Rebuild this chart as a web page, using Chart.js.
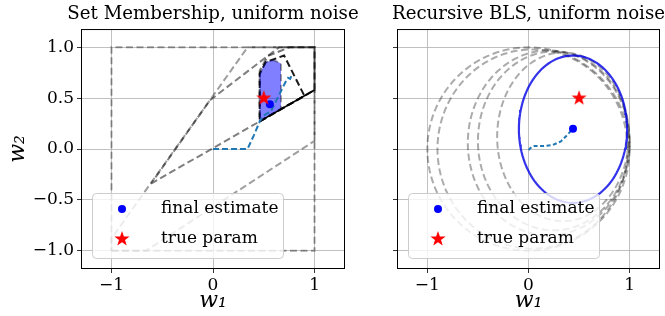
<!DOCTYPE html>
<html>
<head>
<meta charset="utf-8">
<script src="https://cdn.jsdelivr.net/npm/chart.js@4.4.0/dist/chart.umd.min.js"></script>
<style>
  body { margin: 0; background: #fff; width: 665px; height: 316px; overflow: hidden; position: relative; }
  canvas { position: absolute; top: 0; }
  #smChart { left: 0; }
  #blsChart { left: 355px; }
</style>
</head>
<body>
<canvas id="smChart" width="364" height="316"></canvas>
<canvas id="blsChart" width="310" height="316"></canvas>
<script>
// ---------- data
const xTicks = [-1, 0, 1]
const xTickLabels = ['\u22121', '0', '1']
const yTicks = [-1, -0.5, 0, 0.5, 1]
const yTickLabels = ['\u22121.0', '\u22120.5', '0.0', '0.5', '1.0']
const legendLabels = ['final estimate', 'true param']

// set membership: feasible polygons, first to last
const boxX = [-1, 1, 1, -1, -1]
const boxY = [-1, -1, 1, 1, -1]
const set1X = [-1, -0.66, 1, 1, 0.34, -1, -1]
const set1Y = [-1, -1, 0.08, 1, 1, -0.88, -1]
const set2X = [-0.61, 1, 1, 0.65, -0.03, -0.61]
const set2Y = [-0.34, 0.58, 1, 1, 0.48, -0.34]
const set3X = [0.46, 1, 1, 0.75, 0.54, 0.46, 0.46]
const set3Y = [0.272, 0.58, 1, 1, 0.915, 0.77, 0.272]
const set4X = [0.46, 0.9, 0.70, 0.52, 0.46, 0.46]
const set4Y = [0.272, 0.523, 0.92, 0.855, 0.74, 0.272]
const finalSetX = [0.46, 0.67, 0.67, 0.6, 0.52, 0.46, 0.46]
const finalSetY = [0.272, 0.392, 0.84, 0.875, 0.855, 0.74, 0.272]
const cutX = [0.46, 1]
const cutY = [0.272, 0.58]
const smPathX = [0, 0.34, 0.40, 0.46, 0.50, 0.57, 0.62, 0.67, 0.72, 0.74, 0.76, 0.78]
const smPathY = [0, 0, 0.13, 0.27, 0.33, 0.37, 0.47, 0.57, 0.67, 0.70, 0.69, 0.74]
const smEstimate = [0.56, 0.44]
const trueParam = [0.5, 0.5]

// recursive BLS: ellipses (centre x, centre y, half width, half height)
const ellCx = [0, 0.04, 0.2, 0.25, 0.34]
const ellCy = [0, 0, 0.06, 0.08, 0.12]
const ellRx = [1, 0.94, 0.8, 0.75, 0.65]
const ellRy = [1, 0.98, 0.91, 0.88, 0.83]
const finalEll = [0.44, 0.195, 0.535, 0.725]
const blsPathX = [0, 0.03, 0.06, 0.15, 0.24, 0.32, 0.385, 0.44]
const blsPathY = [-0.01, 0.02, 0.03, 0.03, 0.04, 0.075, 0.14, 0.2]
const blsEstimate = [0.44, 0.2]

// ---------- helpers
const FONT = "'DejaVu Serif', serif"
const pts = (xs, ys) => xs.map((x, i) => ({x: x, y: ys[i]}))
function ellipsePts(cx, cy, rx, ry) {
  let out = []
  for (let k = 0; k <= 120; k++) {
    let t = 2 * Math.PI * k / 120
    out.push({x: cx + rx * Math.cos(t), y: cy + ry * Math.sin(t)})
  }
  return out
}
function makeStar(r, color) {
  let c = document.createElement('canvas')
  c.width = c.height = 2 * r + 2
  let g = c.getContext('2d')
  g.fillStyle = color
  g.beginPath()
  for (let k = 0; k < 10; k++) {
    let rad = k % 2 ? r * 0.4 : r
    let a = -Math.PI / 2 + k * Math.PI / 5
    g.lineTo(r + 1 + rad * Math.cos(a), r + 1 + rad * Math.sin(a))
  }
  g.closePath()
  g.fill()
  return c
}
const star = makeStar(8, '#ff0000')

function outline(data, color, dash, width) {
  return {data: data, showLine: true, borderColor: color, borderWidth: width || 2,
    borderDash: dash || [], pointRadius: 0, fill: false, tension: 0}
}
function marker(p, style, radius) {
  return {data: [{x: p[0], y: p[1]}], showLine: false, pointStyle: style, pointRadius: radius,
    backgroundColor: '#0000ff', borderColor: '#0000ff', borderWidth: 0}
}

// let the title run wider than the axes (centred on them), like matplotlib
const wideTitle = {
  id: 'wideTitle',
  afterLayout(chart) {
    const t = chart.titleBlock
    const c = (chart.chartArea.left + chart.chartArea.right) / 2
    t.left = c - 150
    t.right = c + 150
  }
}

// frame on all four sides + matplotlib-like legend in the lower left corner
const frameLegend = {
  id: 'frameLegend',
  afterDatasetsDraw(chart) {
    const {ctx, chartArea: a} = chart
    const lx = a.left + 11, ly = a.bottom - 11 - 65, lw = 191, lh = 65
    ctx.save()
    ctx.beginPath()
    ctx.roundRect(lx + 0.5, ly + 0.5, lw, lh, 4)
    ctx.fillStyle = 'rgba(255,255,255,0.8)'
    ctx.fill()
    ctx.strokeStyle = '#cccccc'
    ctx.lineWidth = 1
    ctx.stroke()
    ctx.beginPath()
    ctx.arc(lx + 30, ly + 16, 4, 0, 2 * Math.PI)
    ctx.fillStyle = '#0000ff'
    ctx.fill()
    ctx.drawImage(star, lx + 30 - star.width / 2, ly + 46 - star.height / 2)
    ctx.fillStyle = '#000'
    ctx.font = '17px ' + FONT
    ctx.textBaseline = 'middle'
    ctx.fillText(legendLabels[0], lx + 69, ly + 16)
    ctx.fillText(legendLabels[1], lx + 69, ly + 46)
    ctx.strokeStyle = '#000'
    ctx.strokeRect(a.left + 0.5, a.top + 0.5, a.right - a.left - 1, a.bottom - a.top - 1)
    ctx.restore()
  }
}

function makeScales(yAxisWidth, showYLabels) {
  const grid = {color: '#b0b0b0', lineWidth: 0.8, tickColor: '#000', tickLength: 4}
  return {
    x: {
      type: 'linear', min: -1.3, max: 1.3,
      afterBuildTicks: s => { s.ticks = xTicks.map(v => ({value: v})) },
      afterFit: s => { s.height = 47 },
      grid: grid, border: {display: false},
      ticks: {autoSkip: false, maxRotation: 0, padding: 2, color: '#000', font: {family: FONT, size: 17},
        callback: v => xTickLabels[xTicks.indexOf(v)]},
      title: {display: true, text: 'w\u2081', color: '#000', padding: {top: 0, bottom: 3},
        font: {family: FONT, size: 22, style: 'italic', lineHeight: 1.1}}
    },
    y: {
      type: 'linear', min: -1.18, max: 1.18,
      afterBuildTicks: s => { s.ticks = yTicks.map(v => ({value: v})) },
      afterFit: s => { s.width = yAxisWidth },
      grid: grid, border: {display: false},
      ticks: {display: showYLabels, autoSkip: false, padding: 3, color: '#000', font: {family: FONT, size: 17},
        callback: v => yTickLabels[yTicks.indexOf(v)]},
      title: {display: showYLabels, text: 'w\u2082', color: '#000', padding: {top: 6, bottom: 0},
        font: {family: FONT, size: 22, style: 'italic', lineHeight: 1.1}}
    }
  }
}

function makeOptions(title, yAxisWidth, showYLabels, padRight) {
  return {
    responsive: false, animation: false, devicePixelRatio: 1,
    layout: {autoPadding: false, padding: {left: 0, right: padRight, top: 0, bottom: 0}},
    scales: makeScales(yAxisWidth, showYLabels),
    plugins: {
      legend: {display: false}, tooltip: {enabled: false},
      title: {display: true, text: title, fullSize: false, color: '#000',
        font: {family: FONT, size: 18.2, weight: 'normal', lineHeight: 1.2}, padding: {top: 3, bottom: 4.2}}
    }
  }
}

// later datasets on top
const stack = list => list.map((d, i) => Object.assign(d, {order: -i}))

// ---------- set membership
let finalFill = outline(pts(finalSetX, finalSetY), 'rgba(0,0,0,0.35)', [7, 3.5])
finalFill.fill = 'shape'
finalFill.backgroundColor = 'rgba(0,0,255,0.5)'
new Chart(document.getElementById('smChart'), {
  type: 'scatter',
  data: {datasets: stack([
    outline(pts(boxX, boxY), 'rgba(0,0,0,0.36)', [7, 3.5]),
    outline(pts(set1X, set1Y), 'rgba(0,0,0,0.38)', [7, 3.5]),
    outline(pts(set2X, set2Y), 'rgba(0,0,0,0.5)', [7, 3.5]),
    outline(pts(set3X, set3Y), 'rgba(0,0,0,0.55)', [7, 3.5]),
    outline(pts(set4X, set4Y), 'rgba(0,0,0,0.9)', [7, 3.5]),
    finalFill,
    outline(pts(cutX, cutY), '#000', [], 1.6),
    outline(pts(smPathX, smPathY), '#1f77b4', [6, 3]),
    marker(smEstimate, 'circle', 4),
    marker(trueParam, star, 8)
  ])},
  options: makeOptions('Set Membership, uniform noise', 81, true, 19),
  plugins: [wideTitle, frameLegend]
})

// ---------- recursive BLS
let blsSets = ellCx.map((c, i) => outline(ellipsePts(c, ellCy[i], ellRx[i], ellRy[i]), 'rgba(0,0,0,0.33)', [7, 3.5]))
new Chart(document.getElementById('blsChart'), {
  type: 'scatter',
  data: {datasets: stack(blsSets.concat([
    outline(ellipsePts(finalEll[0], finalEll[1], finalEll[2], finalEll[3]), 'rgba(0,0,230,0.8)', [], 2.2),
    outline(pts(blsPathX, blsPathY), '#1f77b4', [4, 2.5]),
    marker(blsEstimate, 'circle', 4),
    marker(trueParam, star, 8)
  ]))},
  options: makeOptions('Recursive BLS, uniform noise', 42, false, 5),
  plugins: [wideTitle, frameLegend]
})
</script>
</body>
</html>
